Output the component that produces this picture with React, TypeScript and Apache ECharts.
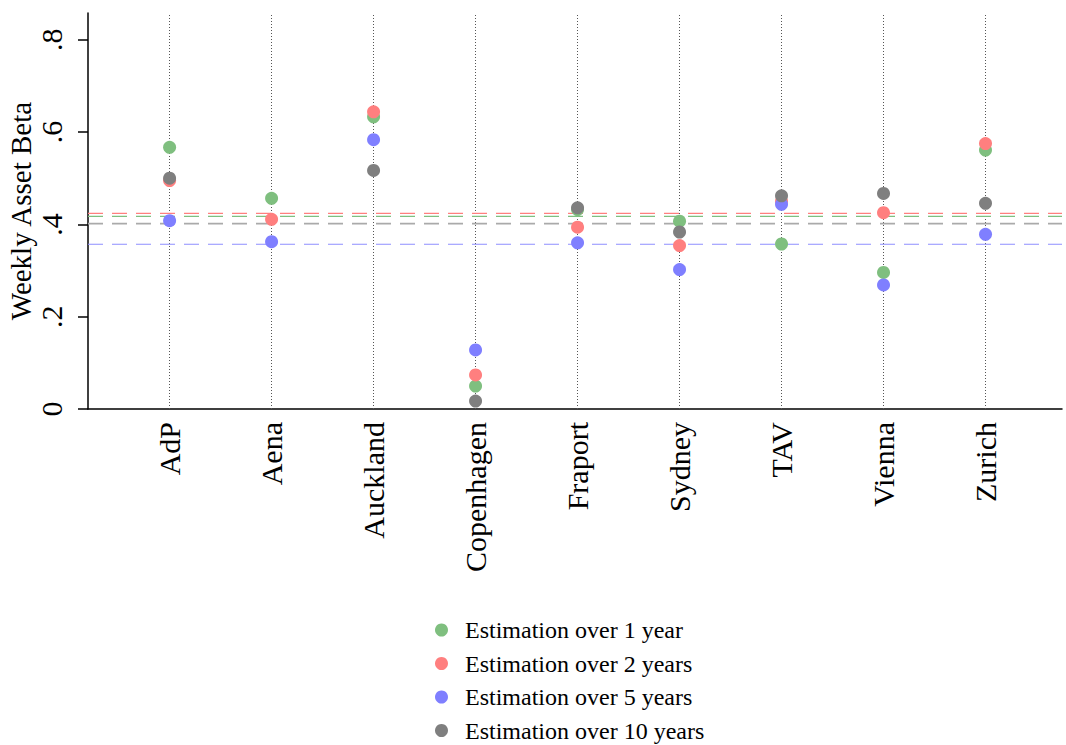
import React, { useEffect, useRef } from "react";
import * as echarts from "echarts";

const categories = ["AdP", "Aena", "Auckland", "Copenhagen", "Fraport", "Sydney", "TAV", "Vienna", "Zurich"];
const seriesNames = ["Estimation over 1 year", "Estimation over 2 years", "Estimation over 5 years", "Estimation over 10 years"];
const colors = ["#7fbf7f", "#ff7f7f", "#7f7fff", "#7f7f7f"];
const meanLineColors = ["#7fbf7f", "#ff7f7f", "#8f8fff", "#aaaaaa"];

const beta1y: (number | null)[] = [0.567, 0.4565, 0.633, 0.0498, 0.432, 0.407, 0.3575, 0.296, 0.561];
const beta2y: (number | null)[] = [0.495, 0.411, 0.644, 0.0737, 0.394, 0.354, 0.45, 0.4254, 0.575];
const beta5y: (number | null)[] = [0.408, 0.3626, 0.5835, 0.128, 0.36, 0.302, 0.4435, 0.2687, 0.3785];
const beta10y: (number | null)[] = [0.5, null, 0.517, 0.0173, 0.436, 0.3835, 0.462, 0.467, 0.4457];
const meanLines = [0.4175, 0.424, 0.357, 0.4016];
const yTicks = [0, 0.2, 0.4, 0.6, 0.8];

const allSeries = [beta1y, beta2y, beta5y, beta10y];
const FONT = "'Liberation Serif', 'DejaVu Serif', serif";
const X_MIN = 0.2;
const X_MAX = 9.75;

export default function App() {
  const ref = useRef<HTMLDivElement>(null);
  useEffect(() => {
    if (!ref.current) return;
    const chart = echarts.init(ref.current, null, { renderer: "svg" });
    const positions = categories.map((_, i) => i + 1);
    const series: any[] = [];
    // vertical dotted guide lines at each category
    series.push({
      name: "guides",
      type: "scatter",
      data: [],
      silent: true,
      markLine: {
        silent: true,
        symbol: "none",
        label: { show: false },
        z: 1,
        lineStyle: { color: "#555", type: [1, 2], width: 1 },
        data: positions.map((p) => ({ xAxis: p })),
      },
    });
    // mean lines
    meanLines.forEach((m, si) => {
      series.push({
        name: "mean" + si,
        type: "line",
        silent: true,
        showSymbol: false,
        symbol: "none",
        z: 2,
        lineStyle: { color: meanLineColors[si], type: [15, 9], width: si === 3 ? 1.6 : 1.2 },
        itemStyle: { color: meanLineColors[si] },
        emphasis: { disabled: true },
        data: [[X_MIN, m], [X_MAX, m]],
      });
    });
    allSeries.forEach((vals, si) => {
      series.push({
        name: seriesNames[si],
        type: "scatter",
        symbol: "circle",
        symbolSize: 13,
        itemStyle: { color: colors[si], opacity: 1 },
        z: 3 + si,
        data: vals.map((v, i) => (v == null ? null : [positions[i], v])).filter((d) => d != null),
      });
    });
    chart.setOption({
      animation: false,
      grid: { left: 88, right: 4, top: 13, bottom: 336, containLabel: false, outerBoundsMode: "none" },
      legend: {
        data: seriesNames,
        orient: "vertical",
        left: 435,
        top: 618,
        height: 140,
        padding: 0,
        icon: "circle",
        itemWidth: 37,
        itemHeight: 13,
        itemGap: 9.5,
        symbolKeepAspect: true,
        textStyle: { fontFamily: FONT, fontSize: 24, color: "#000" },
      },
      xAxis: {
        type: "value",
        min: X_MIN,
        max: X_MAX,
        splitLine: { show: false },
        axisTick: { show: false },
        axisLine: { show: true, onZero: false, lineStyle: { color: "#000", width: 1.5 } },
        axisLabel: {
          customValues: positions,
          rotate: 90,
          margin: 13,
          fontFamily: FONT,
          fontSize: 30,
          color: "#000",
          formatter: (v: number) => categories[Math.round(v) - 1] ?? "",
        },
      },
      yAxis: {
        type: "value",
        min: 0,
        max: 0.858,
        name: "Weekly Asset Beta",
        nameLocation: "middle",
        nameGap: 53,
        nameMoveOverlap: false,
        nameTextStyle: { fontFamily: FONT, fontSize: 29, color: "#000" },
        splitLine: { show: false },
        axisLine: { show: true, onZero: false, lineStyle: { color: "#000", width: 1.5 } },
        axisTick: { show: true, customValues: yTicks, length: 10, lineStyle: { color: "#000", width: 1.5 } },
        axisLabel: {
          customValues: yTicks,
          rotate: 90,
          margin: 22,
          fontFamily: FONT,
          fontSize: 30,
          color: "#000",
          formatter: (v: number) => (v === 0 ? "0" : String(Math.round(v * 10) / 10).replace(/^0/, "")),
        },
      },
      series,
    });
    return () => chart.dispose();
  }, []);
  return <div ref={ref} style={{ position: "fixed", left: 0, top: 0, width: 1066, height: 745, background: "#fff" }} />;
}
